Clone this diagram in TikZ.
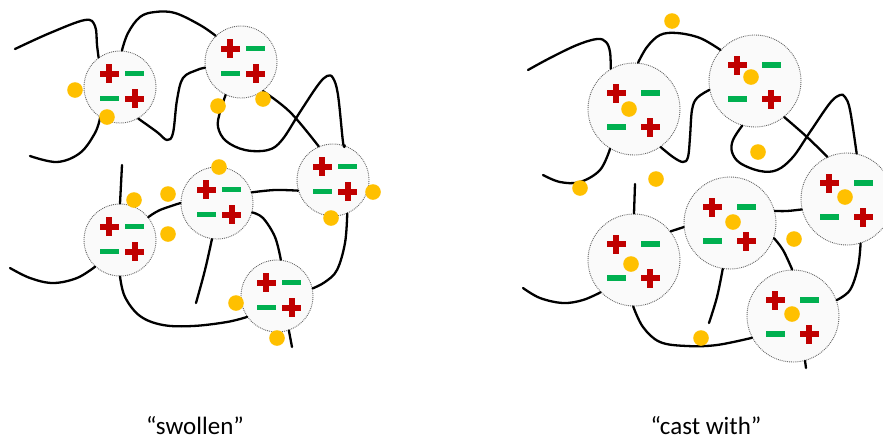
\documentclass[tikz,border=0pt]{standalone}
\usepackage{fontspec}
\setmainfont{Carlito}
\definecolor{plusred}{HTML}{C00000}
\definecolor{minusgreen}{HTML}{00B050}
\definecolor{ionyellow}{HTML}{FFC000}
\tikzset{
  strand/.style={line width=2.3pt, line cap=round, line join=round, black},
  cell/.style={circle, draw=black!60, densely dotted, line width=0.9pt,
               fill=gray!4, inner sep=0pt},
  smallcell/.style={cell, minimum size=72pt},
  bigcell/.style={cell, minimum size=92pt},
  ion/.style={fill=ionyellow},
  caption/.style={anchor=base, font=\fontsize{25}{30}\selectfont, inner sep=0pt},
  pics/chargeplus/.style={code={
    \fill[plusred] (-9.5,-3) rectangle (9.5,3);
    \fill[plusred] (-3,-9.5) rectangle (3,9.5);}},
  pics/chargeminus/.style={code={
    \fill[minusgreen] (-9.5,-2.8) rectangle (9.5,2.8);}},
  % two ion pairs in a swollen domain
  pics/smallcharges/.style={code={
    \pic at (-11,-13.5) {chargeplus};
    \pic at (14.5,-13.5) {chargeminus};
    \pic at (-11,11.5) {chargeminus};
    \pic at (14.5,11.5) {chargeplus};}},
  % two ion pairs in a domain cast with the additive
  pics/bigcharges/.style={code={
    \pic at (-18,-16) {chargeplus};
    \pic at (16,-16) {chargeminus};
    \pic at (-18,18) {chargeminus};
    \pic at (16,18) {chargeplus};}},
}
\newcommand{\ionat}[1]{\fill[ion] (#1) circle[radius=7.8pt];}
\begin{document}
\begin{tikzpicture}[x=1pt, y=-1pt]
\useasboundingbox (0,0) rectangle (883,440);
\begin{scope}
\clip (0,0) rectangle (883,440);

% ---------------- swollen network ----------------
\node[smallcell] (c1) at (120,87) {};
\node[smallcell] (c2) at (241,62) {};
\node[smallcell] (c3) at (333,180) {};
\node[smallcell] (c4) at (217,203) {};
\node[smallcell] (c5) at (120,240) {};
\node[smallcell] (c6) at (277,296) {};

\coordinate (a1) at (15,49);
\coordinate (a3) at (30,156);
\coordinate (a9) at (122,165);
\coordinate (a11) at (196,303);
\coordinate (a13) at (10,268);
\coordinate (a15) at (292,347);

\draw[strand] plot[smooth, tension=0.6] coordinates {(a1) (50,33) (85,20) (95,26) (97,45) (c1.126)};
\draw[strand] plot[smooth, tension=0.6] coordinates {(c1.87) (128,33) (140,17) (155,12) (175,13) (200,25) (c2.134)};
\draw[strand] plot[smooth, tension=0.6] coordinates {(c1.237) (95,133) (80,153) (57,162) (a3)};
\draw[strand] plot[smooth, tension=0.6] coordinates {(c1.300) (157,132) (167,140) (173,133) (177,100) (183,78) (197,70) (c2.189)};
\draw[strand] plot[smooth, tension=0.6] coordinates {(c2.245) (220,112) (218,127) (226,141) (245,150) (268,150) (282,140) (300,112) (318,85) (327,76) (333,78) (338,95) (343,142) (c3.71)};
\draw[strand] plot[smooth, tension=0.6] coordinates {(c2.307) (290,112) (c3.113)};
\draw[strand] plot[smooth, tension=0.6] coordinates {(c3.197) (275,190) (c4.17)};
\draw[strand] plot[smooth, tension=0.6] coordinates {(c3.293) (345,243) (337,270) (325,282) (c6.12)};
\draw[strand] (a9) -- (c5.90);
\draw[strand] plot[smooth, tension=0.6] coordinates {(c5.39) (160,210) (c4.180)};
\draw[strand] plot[smooth, tension=0.6] coordinates {(c4.262) (205,270) (a11)};
\draw[strand] plot[smooth, tension=0.6] coordinates {(c4.345) (263,218) (275,237) (c6.84)};
\draw[strand] plot[smooth, tension=0.6] coordinates {(c5.227) (77,278) (53,283) (30,278) (a13)};
\draw[strand] plot[smooth, tension=0.6] coordinates {(c5.270) (125,297) (140,316) (163,325) (193,326) (227,322) (c6.215)};
\draw[strand] (c6.289) -- (a15);

\foreach \c in {c1,c2,c3,c4,c5,c6} { \pic at (\c) {smallcharges}; }

\foreach \p in {{75,90},{107,117},{218,106},{263,99},{219,167},{168,194},
                {134,200},{168,234},{373,192},{331,218},{236,303},{277,338}}
  { \ionat{\p} }

% ---------------- cast network ----------------
\node[bigcell] (r1) at (634,109) {};
\node[bigcell] (r2) at (755,81) {};
\node[bigcell] (r3) at (847,199) {};
\node[bigcell] (r4) at (730,223) {};
\node[bigcell] (r5) at (634,260) {};
\node[bigcell] (r6) at (793,316) {};

\coordinate (b1) at (528,70);
\coordinate (b3) at (543,175);
\coordinate (b9) at (635,184);
\coordinate (b11) at (709,323);
\coordinate (b13) at (523,288);
\coordinate (b15) at (806,368);

\draw[strand] plot[smooth, tension=0.6] coordinates {(b1) (550,58) (577,45) (597,39) (606,42) (610,52) (r1.120)};
\draw[strand] plot[smooth, tension=0.6] coordinates {(r1.85) (647,47) (660,35) (677,33) (700,38) (r2.138)};
\draw[strand] plot[smooth, tension=0.6] coordinates {(r1.239) (600,170) (580,182) (560,182) (b3)};
\draw[strand] plot[smooth, tension=0.6] coordinates {(r1.305) (673,157) (683,162) (688,157) (690,137) (692,110) (697,98) (r2.191)};
\draw[strand] plot[smooth, tension=0.6] coordinates {(r2.254) (733,140) (732,152) (740,163) (760,171) (777,170) (793,157) (810,132) (830,103) (840,95) (845,97) (850,110) (r3.78)};
\draw[strand] plot[smooth, tension=0.6] coordinates {(r2.309) (807,137) (r3.115)};
\draw[strand] plot[smooth, tension=0.6] coordinates {(r3.193) (787,211) (r4.15)};
\draw[strand] plot[smooth, tension=0.6] coordinates {(r3.287) (858,267) (850,290) (r6.20)};
\draw[strand] (b9) -- (r5.90);
\draw[strand] (r5.38) -- (r4.185);
\draw[strand] plot[smooth, tension=0.6] coordinates {(r4.261) (717,297) (b11)};
\draw[strand] plot[smooth, tension=0.6] coordinates {(r4.341) (783,250) (r6.91)};
\draw[strand] plot[smooth, tension=0.6] coordinates {(r5.224) (583,300) (563,303) (540,298) (b13)};
\draw[strand] plot[smooth, tension=0.6] coordinates {(r5.269) (643,327) (660,342) (687,346) (717,345) (r6.208)};
\draw[strand] (r6.285) -- (b15);

\foreach \c in {r1,r2,r3,r4,r5,r6} { \pic at (\c) {bigcharges}; }

% ions held inside the domains
\foreach \p in {{629,109},{751,77},{845,197},{733,222},{631,264},{792,314}}
  { \ionat{\p} }
% ions left between the domains
\foreach \p in {{672,21},{758,152},{656,179},{580,188},{794,239},{701,338}}
  { \ionat{\p} }
\end{scope}

% ---------------- captions ----------------
\node[caption] (cap1) at (195,434) {“swollen”};
\node[caption] (cap2) at (706,434) {“cast with”};
\end{tikzpicture}
\end{document}
